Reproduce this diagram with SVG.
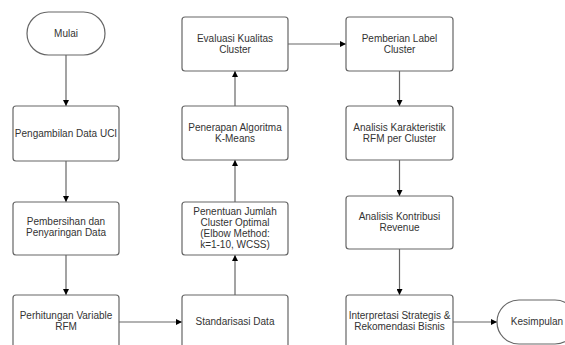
<svg xmlns="http://www.w3.org/2000/svg" width="565" height="345" viewBox="0 0 565 345">
<style>
.box{fill:#ffffff;stroke:#666666;stroke-width:1.2}
.t{font-family:"Liberation Sans",Arial,sans-serif;font-size:10px;fill:#333333;text-anchor:middle}
.c{fill:none;stroke:#666666;stroke-width:1.2}
</style>
<defs>
<marker id="ah" viewBox="0 0 10 10" refX="10" refY="5" markerWidth="6" markerHeight="6" markerUnits="userSpaceOnUse" orient="auto">
<path d="M0,0 L10,5 L0,10 Z" fill="#000000"/>
</marker>
</defs>
<rect width="565" height="345" fill="#ffffff"/>
<g id="connectors">
<line class="c" x1="66" y1="55" x2="66" y2="106" marker-end="url(#ah)"/>
<line class="c" x1="66" y1="161" x2="66" y2="202" marker-end="url(#ah)"/>
<line class="c" x1="66" y1="255" x2="66" y2="295" marker-end="url(#ah)"/>
<line class="c" x1="119" y1="322" x2="182" y2="322" marker-end="url(#ah)"/>
<line class="c" x1="235" y1="295" x2="235" y2="255" marker-end="url(#ah)"/>
<line class="c" x1="235" y1="202" x2="235" y2="160" marker-end="url(#ah)"/>
<line class="c" x1="235" y1="106" x2="235" y2="71" marker-end="url(#ah)"/>
<line class="c" x1="288" y1="44" x2="346" y2="44" marker-end="url(#ah)"/>
<line class="c" x1="399.5" y1="71" x2="399.5" y2="106" marker-end="url(#ah)"/>
<line class="c" x1="399.5" y1="160" x2="399.5" y2="196" marker-end="url(#ah)"/>
<line class="c" x1="399.5" y1="249" x2="399.5" y2="295" marker-end="url(#ah)"/>
<line class="c" x1="453" y1="322" x2="497" y2="322" marker-end="url(#ah)"/>
</g>
<g id="mulai">
<rect class="box" x="27" y="12" width="78" height="43" rx="21.5" ry="21.5"/>
<text class="t" x="66" y="37">Mulai</text>
</g>
<g id="pengambilan">
<rect class="box" x="13" y="106" width="106" height="55" rx="3"/>
<text class="t" x="66" y="137">Pengambilan Data UCI</text>
</g>
<g id="pembersihan">
<rect class="box" x="13" y="202" width="106" height="53" rx="3"/>
<text class="t" x="66" y="225">Pembersihan dan</text>
<text class="t" x="66" y="236">Penyaringan Data</text>
</g>
<g id="perhitungan">
<rect class="box" x="13" y="295" width="106" height="55" rx="3"/>
<text class="t" x="66" y="319">Perhitungan Variable</text>
<text class="t" x="66" y="330">RFM</text>
</g>
<g id="standarisasi">
<rect class="box" x="182" y="295" width="106" height="55" rx="3"/>
<text class="t" x="235" y="325">Standarisasi Data</text>
</g>
<g id="penentuan">
<rect class="box" x="182" y="202" width="106" height="53" rx="3"/>
<text class="t" x="235" y="215">Penentuan Jumlah</text>
<text class="t" x="235" y="226">Cluster Optimal</text>
<text class="t" x="235" y="237">(Elbow Method:</text>
<text class="t" x="235" y="248">k=1-10, WCSS)</text>
</g>
<g id="penerapan">
<rect class="box" x="182" y="106" width="106" height="54" rx="3"/>
<text class="t" x="235" y="131">Penerapan Algoritma</text>
<text class="t" x="235" y="142">K-Means</text>
</g>
<g id="evaluasi">
<rect class="box" x="182" y="17" width="106" height="54" rx="3"/>
<text class="t" x="235" y="42">Evaluasi Kualitas</text>
<text class="t" x="235" y="53">Cluster</text>
</g>
<g id="pemberian">
<rect class="box" x="346" y="17" width="107" height="54" rx="3"/>
<text class="t" x="399.5" y="42">Pemberian Label</text>
<text class="t" x="399.5" y="53">Cluster</text>
</g>
<g id="karakteristik">
<rect class="box" x="346" y="106" width="107" height="54" rx="3"/>
<text class="t" x="399.5" y="131">Analisis Karakteristik</text>
<text class="t" x="399.5" y="142">RFM per Cluster</text>
</g>
<g id="kontribusi">
<rect class="box" x="346" y="196" width="107" height="53" rx="3"/>
<text class="t" x="399.5" y="220">Analisis Kontribusi</text>
<text class="t" x="399.5" y="231">Revenue</text>
</g>
<g id="interpretasi">
<rect class="box" x="346" y="295" width="107" height="55" rx="3"/>
<text class="t" x="399.5" y="319">Interpretasi Strategis &amp;</text>
<text class="t" x="399.5" y="330">Rekomendasi Bisnis</text>
</g>
<g id="kesimpulan">
<rect class="box" x="497" y="300" width="80" height="44" rx="22" ry="22"/>
<text class="t" x="537" y="325">Kesimpulan</text>
</g>
</svg>
